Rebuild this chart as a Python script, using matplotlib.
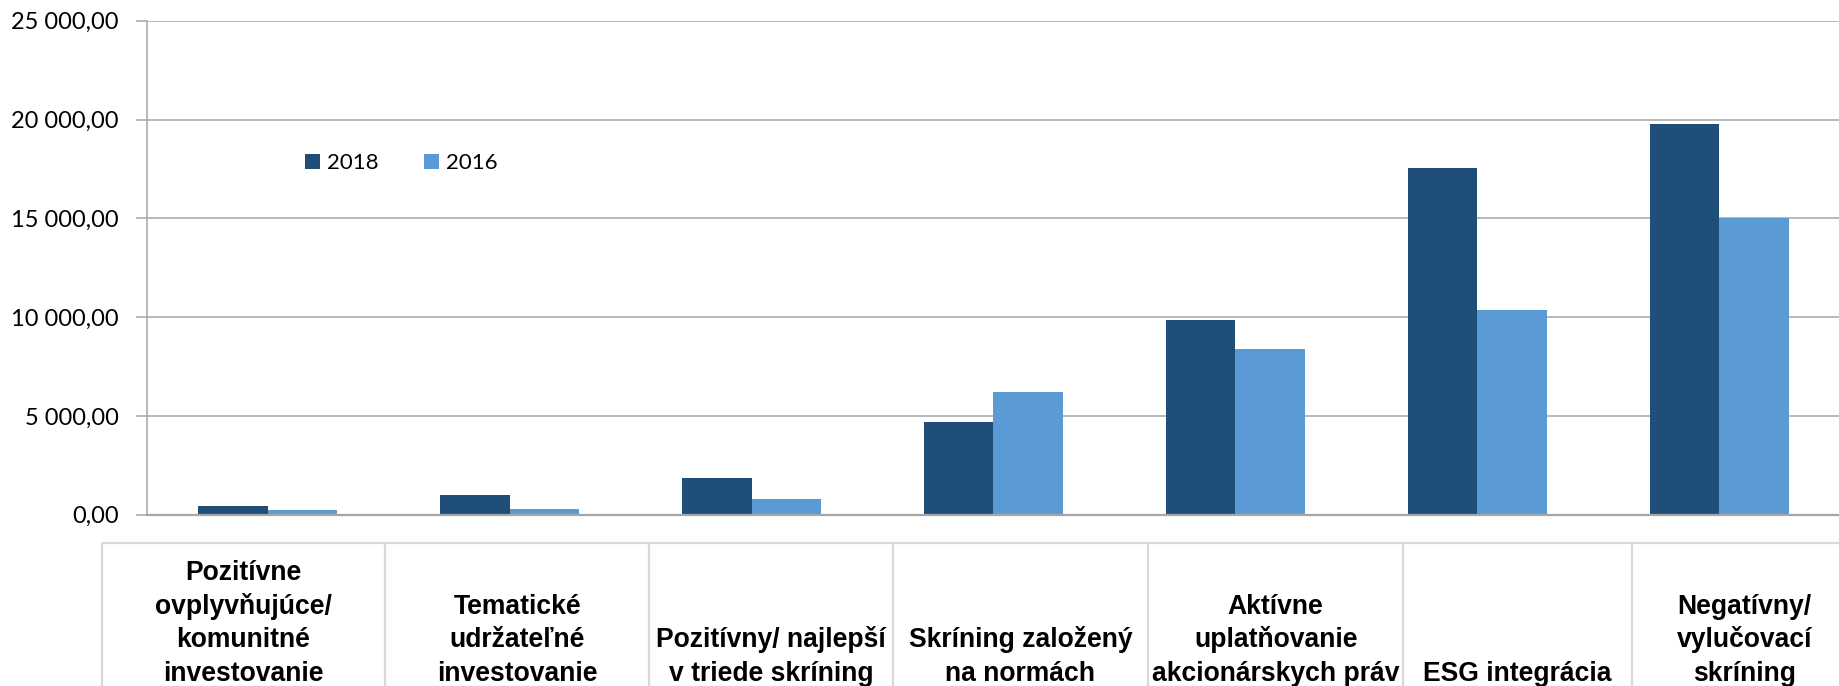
import matplotlib
matplotlib.use("Agg")
import matplotlib.pyplot as plt
import numpy as np

# ---- data ----
categories = [
    ["Pozitívne", "ovplyvňujúce/", "komunitné", "investovanie"],
    ["Tematické", "udržateľné", "investovanie"],
    ["Pozitívny/ najlepší", "v triede skríning"],
    ["Skríning založený", "na normách"],
    ["Aktívne", "uplatňovanie", "akcionárskych práv"],
    ["ESG integrácia"],
    ["Negatívny/", "vylučovací", "skríning"],
]
series_names = ["2018", "2016"]
values_2018 = [444, 1018, 1842, 4679, 9835, 17544, 19771]
values_2016 = [248, 276, 818, 6210, 8365, 10353, 15023]
y_ticks = [0, 5000, 10000, 15000, 20000, 25000]
y_tick_labels = ["0,00", "5 000,00", "10 000,00", "15 000,00", "20 000,00", "25 000,00"]

# ---- styles ----
C2018 = "#1F4E79"
C2016 = "#5B9BD5"
GRID = "#A6A6A6"
TABLE = "#D9D9D9"

W, H = 1840, 686
fig = plt.figure(figsize=(W / 100, H / 100), dpi=100)

left_px, right_px, top_px, zero_px = 147, 1840, 20.7, 514.7
ax = fig.add_axes([left_px / W, 1 - zero_px / H, (right_px - left_px) / W, (zero_px - top_px) / H])

x = np.arange(len(categories))
bw = 0.2875
b1 = ax.bar(x - bw / 2, values_2018, bw, color=C2018, label=series_names[0], zorder=3)
b2 = ax.bar(x + bw / 2, values_2016, bw, color=C2016, label=series_names[1], zorder=3)

ax.set_xlim(-0.5, len(categories) - 0.5)
ax.set_ylim(0, 25000)
ax.set_xticks([])
ax.set_yticks(y_ticks)
ax.set_yticklabels(y_tick_labels, fontfamily="Lato", fontsize=17, color="black")
ax.tick_params(axis="y", length=8, width=1.1, color=GRID, pad=12.5)
ax.yaxis.grid(True, color=GRID, linewidth=1.1, zorder=0)
ax.set_axisbelow(True)
for s in ["top", "right"]:
    ax.spines[s].set_visible(False)
ax.spines["left"].set_color(GRID)
ax.spines["left"].set_linewidth(1.1)
ax.spines["bottom"].set_color(GRID)
ax.spines["bottom"].set_linewidth(1.6)
ax.spines["bottom"].set_zorder(4)

fs_leg = 16
px_leg = fs_leg * 100 / 72
ax.legend(handles=[b1, b2], loc="center left", bbox_to_anchor=(305 / W, 1 - 163 / H),
          bbox_transform=fig.transFigure, ncol=2, frameon=False, borderpad=0,
          borderaxespad=0, handlelength=15 / px_leg, handleheight=15 / px_leg,
          handletextpad=7 / px_leg, columnspacing=45 / px_leg,
          prop={"family": "Lato", "size": fs_leg})

# ---- category table beneath the plot ----
ov = fig.add_axes([0, 0, 1, 1], zorder=-1)
ov.set_xlim(0, W)
ov.set_ylim(H, 0)
ov.axis("off")
cell_edges = [101.8, 385, 649.5, 893, 1148, 1403.4, 1632, 1857]
table_top = 543.3
ov.plot([cell_edges[0], W], [table_top, table_top], color=TABLE, lw=1.6, solid_capstyle="butt")
for e in cell_edges[:-1]:
    ov.plot([e, e], [table_top, H], color=TABLE, lw=1.6, solid_capstyle="butt")

last_baseline = 681
pitch = 33.6
for i, lines in enumerate(categories):
    cx = (cell_edges[i] + cell_edges[i + 1]) / 2
    n = len(lines)
    for k, line in enumerate(lines):
        yb = last_baseline - (n - 1 - k) * pitch
        ov.text(cx, yb, line, ha="center", va="baseline", fontsize=19.1,
                fontweight="bold", family=["Liberation Sans", "DejaVu Sans"], color="black")

fig.savefig("out.png", dpi=100)
